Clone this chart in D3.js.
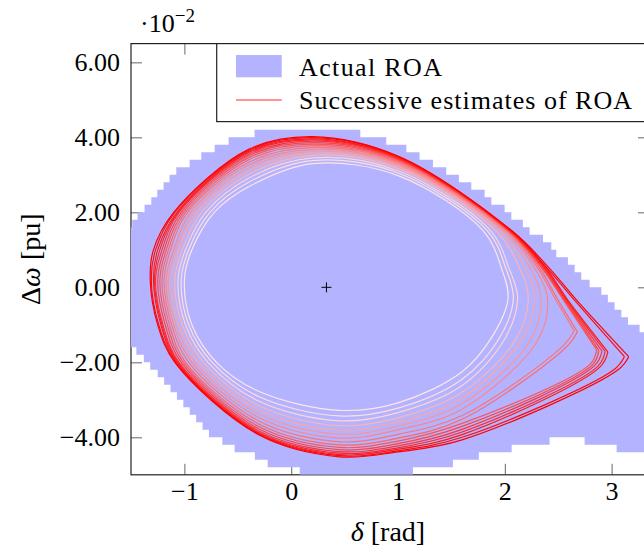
<!DOCTYPE html>
<html>
<head>
<meta charset="utf-8">
<script src="https://cdn.jsdelivr.net/npm/d3@7"></script>
<style>
  body { margin: 0; background: #fff; }
  text { font-family: "Liberation Serif", "DejaVu Serif", serif; fill: #000; }
</style>
</head>
<body>
<div id="chart"></div>
<script>
// ROA grid rows: centre of each row (Δω, ×10^-2) and its δ extent [rad]
var roaOmega = [4.1, 3.9, 3.7, 3.5, 3.3, 3.1, 2.9, 2.7, 2.5, 2.3, 2.1, 1.9, 1.7, 1.5, 1.3, 1.1,
  0.9, 0.7, 0.5, 0.3, 0.1, -0.1, -0.3, -0.5, -0.7, -0.9, -1.1, -1.3, -1.5, -1.7, -1.9, -2.1,
  -2.3, -2.5, -2.7, -2.9, -3.1, -3.3, -3.5, -3.7, -3.9, -4.1, -4.1, -4.3, -4.3, -4.5, -4.7, -4.9];
var roaFrom = [-0.343, -0.586, -0.717, -0.842, -0.951, -1.076, -1.139, -1.195, -1.254, -1.31, -1.373, -1.438, -1.488, -1.6, -1.6, -1.6,
  -1.6, -1.6, -1.6, -1.6, -1.6, -1.6, -1.6, -1.6, -1.6, -1.6, -1.6, -1.6, -1.6, -1.45, -1.38, -1.32,
  -1.25, -1.19, -1.13, -1.07, -1.01, -0.95, -0.89, -0.83, -0.77, -0.645, 2.747, -0.53, 3.047, -0.34, -0.22, 0.08];
var roaTo = [0.647, 0.890, 1.078, 1.202, 1.327, 1.452, 1.570, 1.686, 1.811, 1.874, 1.998, 2.061, 2.169, 2.232, 2.357, 2.435,
  2.482, 2.591, 2.654, 2.716, 2.794, 2.904, 2.965, 3.028, 3.091, 3.153, 3.262, 3.4, 3.4, 3.4, 3.4, 3.4,
  3.4, 3.4, 3.4, 3.4, 3.4, 3.4, 3.4, 3.4, 3.4, 2.419, 3.4, 2.064, 3.4, 1.757, 1.514, 1.14];
var roaRowHeight = 0.2;

// successive estimates (inner -> outer), read where each curve crosses fixed lines
var leftDelta      = [-1.00, -1.03, -1.06, -1.09, -1.12, -1.15, -1.17, -1.19, -1.21, -1.23, -1.25, -1.27, -1.28, -1.29, -1.31, -1.32]; // at Δω = 0.2
var leftHighDelta  = [-0.93, -0.96, -0.99, -1.02, -1.05, -1.08, -1.10, -1.13, -1.15, -1.17, -1.19, -1.21, -1.23, -1.25, -1.27, -1.29]; // at Δω = 1.0
var upLeftDelta    = [-0.72, -0.76, -0.80, -0.84, -0.88, -0.91, -0.94, -0.97, -0.99, -1.01, -1.03, -1.05, -1.06, -1.07, -1.09, -1.10]; // at Δω = 2.0
var topLeftOmega   = [2.68, 2.80, 2.91, 3.01, 3.10, 3.18, 3.26, 3.33, 3.40, 3.46, 3.51, 3.55, 3.59, 3.62, 3.65, 3.68];           // at δ = -0.4
var topOmega       = [3.30, 3.38, 3.45, 3.52, 3.58, 3.63, 3.68, 3.73, 3.78, 3.82, 3.86, 3.90, 3.93, 3.96, 3.99, 4.02];           // at δ = 0.2
var topRightOmega  = [2.98, 3.05, 3.11, 3.17, 3.22, 3.26, 3.30, 3.34, 3.37, 3.40, 3.42, 3.44, 3.46, 3.47, 3.49, 3.50];           // at δ = 1.0
var upRightDelta   = [1.80, 1.84, 1.87, 1.92, 1.95, 1.98, 2.00, 2.02, 2.03, 2.04, 2.045, 2.05, 2.055, 2.06, 2.065, 2.07];        // at Δω = 1.5
var rightHighDelta = [1.97, 2.01, 2.04, 2.14, 2.19, 2.24, 2.28, 2.31, 2.33, 2.35, 2.36, 2.37, 2.38, 2.39, 2.40, 2.42];           // at Δω = 0.5
var rightDelta     = [2.03, 2.08, 2.12, 2.22, 2.28, 2.34, 2.40, 2.47, 2.49, 2.54, 2.55, 2.56, 2.57, 2.58, 2.64, 2.66];           // at Δω = -0.3
var tipDelta       = [1.88, 1.95, 2.00, 2.10, 2.15, 2.23, 2.30, 2.65, 2.68, 2.86, 2.88, 2.91, 2.94, 2.965, 3.12, 3.16];
var tipOmega       = [-1.32, -1.35, -1.37, -1.40, -1.42, -1.45, -1.45, -1.16, -1.19, -1.67, -1.68, -1.70, -1.71, -1.72, -1.85, -1.85];
var tipSharp       = [false, false, false, false, false, false, false, true, true, true, true, true, true, true, true, true];
var underTipDelta  = [null, null, null, null, null, null, null, 2.55, 2.58, 2.80, 2.82, 2.84, 2.87, 2.89, 3.02, 3.06];
var underTipOmega  = [null, null, null, null, null, null, null, -1.55, -1.58, -2.05, -2.07, -2.09, -2.11, -2.13, -2.20, -2.20];
var lowRightOmega  = [-2.25, -2.45, -2.62, -2.80, -2.95, -3.10, -3.25, -3.42, -3.52, -3.63, -3.71, -3.79, -3.86, -3.93, -4.00, -4.07]; // at δ = 1.6
var botRightOmega  = [-3.08, -3.22, -3.34, -3.48, -3.59, -3.70, -3.80, -3.92, -4.02, -4.10, -4.17, -4.23, -4.28, -4.32, -4.36, -4.39]; // at δ = 1.0
var bottomOmega    = [-3.28, -3.43, -3.56, -3.69, -3.81, -3.92, -4.02, -4.12, -4.20, -4.27, -4.33, -4.38, -4.42, -4.46, -4.49, -4.52]; // at δ = 0.45
var botLeftOmega   = [-2.78, -2.92, -3.04, -3.16, -3.27, -3.38, -3.48, -3.57, -3.65, -3.72, -3.78, -3.83, -3.87, -3.90, -3.92, -3.94]; // at δ = -0.3
var lowLeftDelta   = [-0.70, -0.74, -0.78, -0.82, -0.86, -0.90, -0.93, -0.96, -0.99, -1.01, -1.03, -1.05, -1.06, -1.07, -1.08, -1.09]; // at Δω = -2.0
var leftLowDelta   = [-0.93, -0.96, -0.99, -1.02, -1.05, -1.08, -1.10, -1.12, -1.14, -1.16, -1.18, -1.20, -1.21, -1.22, -1.24, -1.25]; // at Δω = -1.0
var estimateShade  = [0.10, 0.13, 0.17, 0.30, 0.36, 0.42, 0.48, 0.55, 0.60, 0.68, 0.74, 0.80, 0.86, 0.90, 0.96, 1.00];

var equilibrium = [0.33, 0.0];

var xTicks = [-1, 0, 1, 2, 3];
var yTicks = [-4, -2, 0, 2, 4, 6];

function drawChart() {
  // SVG parameters
  var svgWidth = 644;
  var svgHeight = 548;

  var svg = d3.select("#chart")
    .append("svg")
    .attr("width", svgWidth)
    .attr("height", svgHeight);

  var xScale = d3.scaleLinear().domain([-1.5, 3.35]).range([131, 649]);
  var yScale = d3.scaleLinear().domain([-5, 6.5]).range([474.8, 43.6]);

  var plotLeft = xScale.range()[0], plotRight = xScale.range()[1];
  var plotTop = yScale.range()[1], plotBottom = yScale.range()[0];

  svg.append("clipPath").attr("id", "plotclip")
    .append("rect")
    .attr("x", plotLeft).attr("y", plotTop)
    .attr("width", plotRight - plotLeft).attr("height", plotBottom - plotTop);

  // ticks, pointing inward on all four sides
  function styleAxis(g) {
    g.select(".domain").remove();
    g.selectAll(".tick line").attr("stroke", "#666").attr("stroke-width", 1);
    g.selectAll(".tick text").attr("font-size", 26).attr("fill", "#000")
      .attr("font-family", "Liberation Serif, serif");
  }

  svg.append("g")
    .attr("transform", `translate(0, ${plotBottom})`)
    .call(d3.axisBottom(xScale).tickValues(xTicks).tickSizeInner(-11).tickSizeOuter(0)
      .tickPadding(7).tickFormat(d3.format("d")))
    .call(styleAxis);
  svg.append("g")
    .attr("transform", `translate(0, ${plotTop})`)
    .call(d3.axisTop(xScale).tickValues(xTicks).tickSizeInner(-11).tickSizeOuter(0).tickFormat(""))
    .call(styleAxis);
  svg.append("g")
    .attr("transform", `translate(${plotLeft}, 0)`)
    .call(d3.axisLeft(yScale).tickValues(yTicks).tickSizeInner(-11).tickSizeOuter(0)
      .tickPadding(11).tickFormat(d3.format(".2f")))
    .call(styleAxis);
  svg.append("g")
    .attr("transform", `translate(${plotRight}, 0)`)
    .call(d3.axisRight(yScale).tickValues(yTicks).tickSizeInner(-11).tickSizeOuter(0).tickFormat(""))
    .call(styleAxis);

  // plot frame
  svg.append("rect")
    .attr("x", plotLeft).attr("y", plotTop)
    .attr("width", plotRight - plotLeft).attr("height", plotBottom - plotTop)
    .attr("fill", "none").attr("stroke", "#222").attr("stroke-width", 1.2);

  // actual ROA, one path made of grid rows
  var roaPath = d3.path();
  roaOmega.forEach(function(w, i) {
    var x0 = xScale(roaFrom[i]), x1 = xScale(roaTo[i]);
    var y0 = yScale(w + roaRowHeight / 2), y1 = yScale(w - roaRowHeight / 2);
    roaPath.rect(x0, y0, x1 - x0, y1 - y0);
  });
  svg.append("path")
    .attr("clip-path", "url(#plotclip)")
    .attr("d", roaPath.toString())
    .attr("fill", "#b3b3ff");

  // successive estimates
  var shadeColor = d3.interpolateRgb("#ffffff", "#ff0000");
  var curveGroup = svg.append("g").attr("clip-path", "url(#plotclip)");

  leftDelta.forEach(function(d, i) {
    var tip = [tipDelta[i], tipOmega[i]];
    var upper = [
      [leftDelta[i], 0.2], [leftHighDelta[i], 1.0], [upLeftDelta[i], 2.0], [-0.4, topLeftOmega[i]],
      [0.2, topOmega[i]], [1.0, topRightOmega[i]], [upRightDelta[i], 1.5], [rightHighDelta[i], 0.5],
      [rightDelta[i], -0.3]
    ];
    var lower = [[1.6, lowRightOmega[i]], [1.0, botRightOmega[i]], [0.45, bottomOmega[i]],
      [-0.3, botLeftOmega[i]], [lowLeftDelta[i], -2.0], [leftLowDelta[i], -1.0]];
    var line, pts;
    if (tipSharp[i]) {
      // open curve starting and ending at the corner keeps the corner sharp
      pts = [tip, [underTipDelta[i], underTipOmega[i]]].concat(lower, upper, [tip]);
      line = d3.line().curve(d3.curveCatmullRom.alpha(0.5));
    } else {
      pts = upper.concat([tip], lower);
      line = d3.line().curve(d3.curveCatmullRomClosed.alpha(0.5));
    }
    line.x(p => xScale(p[0])).y(p => yScale(p[1]));
    curveGroup.append("path")
      .attr("d", line(pts))
      .attr("fill", "none")
      .attr("stroke", shadeColor(estimateShade[i]))
      .attr("stroke-width", 1.2);
  });

  // equilibrium marker
  var ex = xScale(equilibrium[0]), ey = yScale(equilibrium[1]);
  svg.append("path")
    .attr("d", `M${ex - 5},${ey}H${ex + 5}M${ex},${ey - 5}V${ey + 5}`)
    .attr("stroke", "#000").attr("stroke-width", 1);

  // legend
  var legend = svg.append("g");
  legend.append("rect")
    .attr("x", 216.7).attr("y", plotTop)
    .attr("width", plotRight - 216.7).attr("height", 78)
    .attr("fill", "#fff").attr("stroke", "#222").attr("stroke-width", 1.2);
  legend.append("rect")
    .attr("x", 236).attr("y", 55).attr("width", 45.7).attr("height", 22.3)
    .attr("fill", "#b3b3ff");
  legend.append("line")
    .attr("x1", 236).attr("x2", 281.7).attr("y1", 100).attr("y2", 100)
    .attr("stroke", "#ff6e6e").attr("stroke-width", 1.6);
  legend.append("text").attr("x", 299).attr("y", 75.5).attr("font-size", 26)
    .attr("textLength", 143).attr("lengthAdjust", "spacing").text("Actual ROA");
  legend.append("text").attr("x", 299).attr("y", 108.5).attr("font-size", 26)
    .attr("textLength", 333).attr("lengthAdjust", "spacing").text("Successive estimates of ROA");

  // scale factor above the y axis
  var mult = svg.append("text").attr("x", 140).attr("y", 31.7).attr("font-size", 26);
  mult.append("tspan").text("·10");
  mult.append("tspan").attr("font-size", 19).attr("dy", -10).text("−2");

  // axis labels
  var xlab = svg.append("text")
    .attr("x", 388).attr("y", 541)
    .attr("text-anchor", "middle").attr("font-size", 28);
  xlab.append("tspan").attr("font-style", "italic").text("δ");
  xlab.append("tspan").text(" [rad]");

  var ylab = svg.append("text")
    .attr("transform", `translate(40, ${(plotTop + plotBottom) / 2}) rotate(-90)`)
    .attr("text-anchor", "middle").attr("font-size", 28);
  ylab.append("tspan").text("Δ");
  ylab.append("tspan").attr("font-style", "italic").text("ω");
  ylab.append("tspan").text(" [pu]");
}

drawChart();
</script>
</body>
</html>
